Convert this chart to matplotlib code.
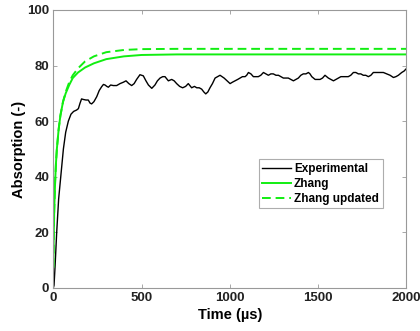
import numpy as np
import matplotlib.pyplot as plt

plt.rcParams['font.family'] = ['Liberation Sans', 'DejaVu Sans']
plt.rcParams['font.weight'] = 'bold'

# Measured absorption (%) vs time (us)
t_exp = [0, 4, 10, 19, 30, 42, 57, 70, 85, 100, 115, 132, 142, 151, 160, 170,
         185, 198, 208, 217, 230, 246, 260, 274, 284, 293, 303, 312, 325, 340,
         359, 378, 397, 412, 428, 444, 458, 472, 491, 510, 525, 539, 558, 576,
         590, 605, 620, 633, 652, 671, 685, 699, 716, 733, 750, 765, 784, 800,
         813, 827, 841, 853, 864, 876, 888, 902, 917, 931, 945, 957, 968, 985,
         1002, 1015, 1030, 1045, 1058, 1072, 1087, 1096, 1106, 1120, 1134, 1148,
         1162, 1176, 1191, 1205, 1219, 1233, 1247, 1262, 1276, 1290, 1304, 1318,
         1332, 1347, 1361, 1375, 1389, 1403, 1417, 1432, 1446, 1455, 1465, 1475,
         1484, 1498, 1512, 1526, 1540, 1550, 1559, 1573, 1588, 1602, 1616, 1630,
         1644, 1658, 1672, 1686, 1701, 1715, 1729, 1743, 1757, 1771, 1786, 1800,
         1814, 1833, 1852, 1871, 1890, 1909, 1928, 1942, 1956, 1966, 1975, 1988,
         2000]
a_exp = [0, 1, 8, 20, 32, 40, 50, 56, 60, 62.5, 63.5, 64, 64.5, 66.4, 68, 67.8,
         67.6, 67.6, 66.5, 66.2, 67, 68.8, 71, 72.4, 73.2, 73, 72.5, 72.2, 73, 72.8,
         72.8, 73.5, 74, 74.5, 73.5, 72.8, 73.5, 75, 76.7, 76.3, 74.5, 73, 71.8, 73,
         74.5, 75.5, 76, 76, 74.5, 75, 74.5, 73.5, 72.5, 72, 72.5, 73.5, 72, 72.5,
         72, 72, 71.5, 70.5, 69.8, 70.5, 72, 73.5, 75.5, 76, 76.5, 76, 75.5, 74.5,
         73.5, 74, 74.5, 75, 75.5, 76, 76, 76.5, 77.5, 77, 76, 76,
         76, 76.5, 77.5, 77, 76.5, 77, 77, 76.5, 76.5, 76, 75.5, 75.5,
         75.5, 75, 74.5, 75, 75.5, 76.5, 77, 77, 77.5, 77, 76, 75.5,
         75, 75, 75, 75.5, 76.5, 76, 75.5, 75, 74.5, 75, 75.5, 76,
         76, 76, 76, 76.5, 77.5, 77.5, 77, 77, 76.5, 76.5, 76, 76.5,
         77.5, 77.5, 77.5, 77.5, 77, 76.5, 75.7, 76, 76.5, 77, 77.5, 78,
         78.8]

# Zhang model
t_zh = [0, 2, 5, 10, 15, 20, 30, 40, 55, 70, 90, 110, 140, 180, 230, 300,
        400, 500, 700, 1000, 1500, 2000]
a_zh = [7.5, 18, 28, 38, 45, 50, 57, 62, 67, 70, 73, 75.5, 77.5, 79.3, 80.8,
        82.3, 83.3, 83.8, 84, 84, 84, 84]

# Zhang model, updated
t_zu = [0, 2, 5, 10, 15, 20, 30, 40, 55, 70, 90, 110, 140, 180, 230, 300,
        400, 500, 700, 1000, 1500, 2000]
a_zu = [7.5, 18, 28, 38, 45, 50, 57, 62, 67, 70.5, 74, 76.5, 79, 81.5, 83.3,
        84.8, 85.6, 85.9, 86, 86, 86, 86]

fig = plt.figure(figsize=(4.2, 3.31), dpi=100)
ax = fig.add_axes([0.127, 0.130, 0.840, 0.840])

ax.plot(t_exp, a_exp, color='black', lw=1.0, label='Experimental')
ax.plot(t_zh, a_zh, color='#11ee11', lw=1.4, label='Zhang')
ax.plot(t_zu, a_zu, color='#11ee11', lw=1.4, ls=(0, (4.5, 2.5)), label='Zhang updated')

ax.set_xlim(0, 2000)
ax.set_ylim(0, 100)
ax.set_xticks([0, 500, 1000, 1500, 2000])
ax.set_yticks([0, 20, 40, 60, 80, 100])
ax.set_xlabel('Time (\u00b5s)', fontsize=10.5, fontweight='bold', labelpad=3)
ax.set_ylabel('Absorption (-)', fontsize=10.5, fontweight='bold', labelpad=1)

for s in ax.spines.values():
    s.set_color('#999999')
    s.set_linewidth(0.8)
ax.tick_params(direction='in', length=3, width=0.6, color='#999999',
               labelsize=9.5, labelcolor='#222222', top=True, right=True, pad=3)

leg = ax.legend(loc='upper left', bbox_to_anchor=(0.582, 0.463),
                borderaxespad=0, fontsize=8.5, fancybox=False, frameon=True,
                handlelength=2.4, handletextpad=0.3, borderpad=0.3,
                labelspacing=0.25)
leg.get_frame().set_edgecolor('#999999')
leg.get_frame().set_linewidth(0.8)

fig.savefig('out.png', dpi=100)
